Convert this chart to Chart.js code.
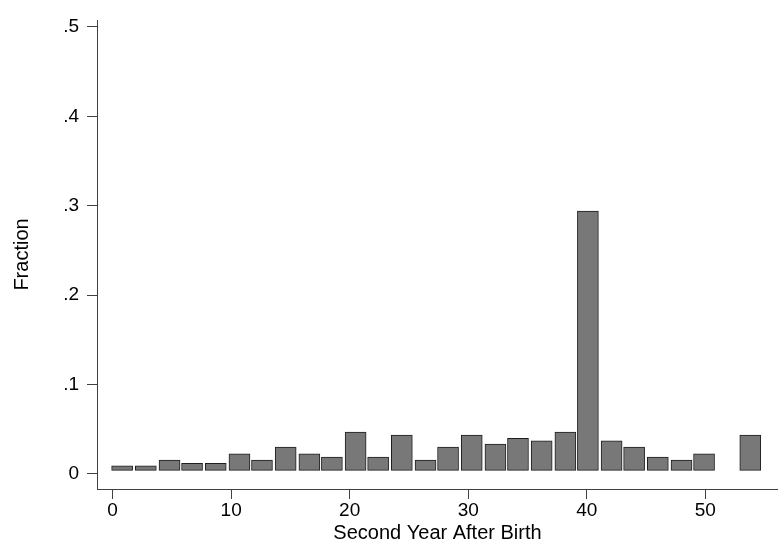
<!DOCTYPE html>
<html lang="en">
<head>
  <meta charset="UTF-8">
  <title>Second Year After Birth</title>
  <script src="https://cdn.jsdelivr.net/npm/chart.js"></script>
  <style>
    body { margin: 0; background: #fff; }
    canvas { display: block; }
  </style>
</head>
<body>
  <canvas id="histChart" width="778" height="545"></canvas>

  <script>
    // bin midpoints (years) and bar tops (fraction)
    const binCenters = [0.8, 2.8, 4.8, 6.7, 8.7, 10.7, 12.6, 14.6, 16.6, 18.5, 20.5, 22.4, 24.4, 26.4,
                        28.3, 30.3, 32.3, 34.2, 36.2, 38.2, 40.1, 42.1, 44.0, 46.0, 48.0, 49.9, 53.8];
    const fractions = [0.009, 0.009, 0.0155, 0.012, 0.012, 0.0225, 0.0155, 0.030, 0.0225, 0.019, 0.047, 0.019, 0.0435, 0.0155,
                       0.030, 0.0435, 0.0335, 0.040, 0.037, 0.047, 0.294, 0.037, 0.030, 0.019, 0.0155, 0.0225, 0.0435];
    const barBase = 0.004;

    const xTicks = [0, 10, 20, 30, 40, 50];
    const yTicks = [0, 0.1, 0.2, 0.3, 0.4, 0.5];
    const yTickLabels = ['0', '.1', '.2', '.3', '.4', '.5'];

    const tickFont = { family: 'Liberation Sans', size: 19 };
    const titleFont = { family: 'Liberation Sans', size: 20 };
    const axisColor = '#404040';

    new Chart(document.getElementById('histChart').getContext('2d'), {
      type: 'bar',
      data: {
        datasets: [{
          data: binCenters.map((x, i) => ({ x: x, y: [barBase, fractions[i]] })),
          backgroundColor: '#787878',
          borderColor: '#1e1e1e',
          borderWidth: 1,
          borderSkipped: false,
          barThickness: 21
        }]
      },
      options: {
        responsive: false,
        animation: false,
        layout: { padding: { top: 20, right: 0, bottom: 0, left: 0 } },
        plugins: { legend: { display: false }, tooltip: { enabled: false } },
        scales: {
          x: {
            type: 'linear',
            min: -1.32,
            max: 56.14,
            offset: false,
            afterBuildTicks: s => { s.ticks = xTicks.map(v => ({ value: v })); },
            afterFit: s => { s.height = 56; },
            grid: { offset: false, drawOnChartArea: false, drawTicks: true, tickLength: 10, color: axisColor },
            border: { display: true, color: axisColor },
            ticks: { autoSkip: false, maxRotation: 0, padding: 0, color: '#000', font: tickFont },
            title: { display: true, text: 'Second Year After Birth', color: '#000', font: titleFont, padding: 0 }
          },
          y: {
            min: -0.0168,
            max: 0.5078,
            afterBuildTicks: s => { s.ticks = yTicks.map(v => ({ value: v })); },
            afterFit: s => { s.width = 97; },
            grid: { drawOnChartArea: false, drawTicks: true, tickLength: 10, color: axisColor },
            border: { display: true, color: axisColor },
            ticks: {
              padding: 8,
              color: '#000',
              font: tickFont,
              callback: v => yTickLabels[yTicks.findIndex(t => Math.abs(t - v) < 1e-9)]
            },
            title: { display: true, text: 'Fraction', color: '#000', font: titleFont, padding: { top: 10, bottom: 0 } }
          }
        }
      }
    });
  </script>
</body>
</html>
